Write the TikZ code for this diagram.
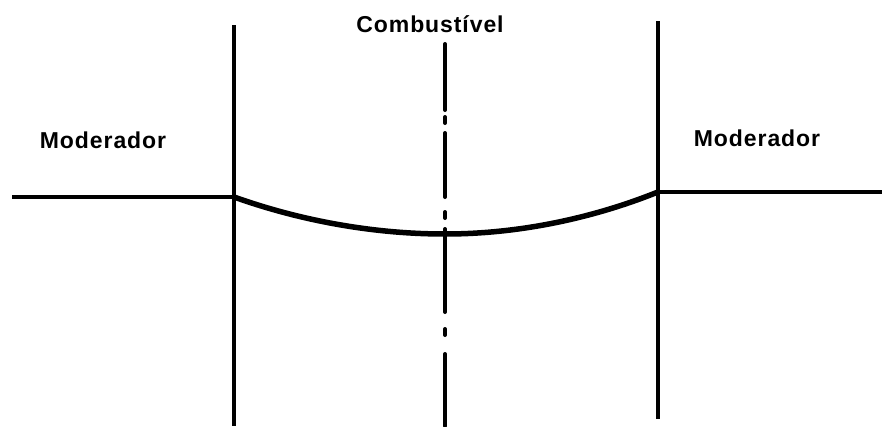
\documentclass[tikz,border=0pt]{standalone}
\usepackage{fontspec}
\setmainfont{Liberation Sans}
\newfontfamily\lblfont[LetterSpace=4]{Liberation Sans Bold}
\begin{document}
\begin{tikzpicture}[x=1pt,y=-1pt,
  lbl/.style={font=\lblfont\fontsize{23}{26}\selectfont, inner sep=0pt, anchor=base},
  wall/.style={line width=3.8pt},
  flat/.style={line width=3.2pt},
  flux/.style={line width=5.5pt},
  axisseg/.style={line width=4pt, line cap=round}]
\useasboundingbox (0,0) rectangle (888,426);
% walls
\coordinate (LT) at (234,25);
\coordinate (LB) at (234,426);
\coordinate (RT) at (658,21);
\coordinate (RB) at (658,419);
\draw[wall] (LT) -- (LB);
\draw[wall] (RT) -- (RB);
% flux
\coordinate (L0) at (12,197);
\coordinate (LJ) at (234,197);
\coordinate (MV) at (445,234);
\coordinate (RJ) at (658,192);
\coordinate (R0) at (882,192);
\draw[flat] (L0) -- (LJ);
\draw[flat] (RJ) -- (R0);
\draw[flux] (LJ) parabola bend (MV) (RJ);
% centre axis (dash-dot)
\foreach \a/\b in {44/110, 117/123, 133/197, 212/218, 229/312, 329/335, 354/426}
  \draw[axisseg] (445,\a) -- (445,\b);
% labels
\node[lbl] (comb) at (430,32) {Combustível};
\node[lbl] (modL) at (103,148) {Moderador};
\node[lbl] (modR) at (757,146) {Moderador};
\end{tikzpicture}
\end{document}
